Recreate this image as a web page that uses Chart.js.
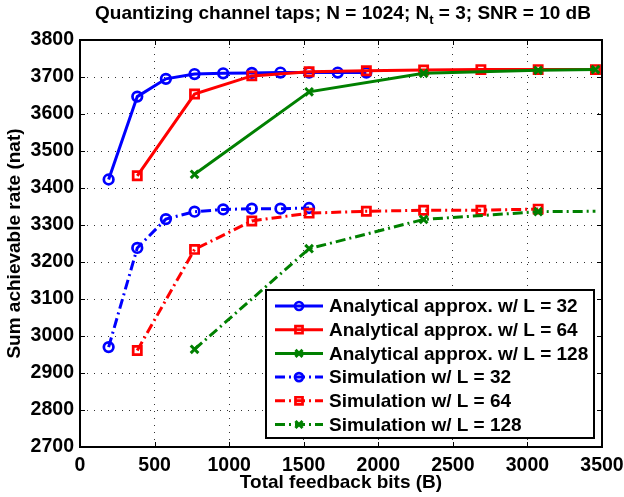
<!DOCTYPE html>
<html>
<head>
<meta charset="utf-8">
<title>Sum achievable rate vs feedback bits</title>
<script src="https://cdn.jsdelivr.net/npm/chart.js@4/dist/chart.umd.min.js"></script>
<style>
    html, body { margin: 0; padding: 0; background: #fff; }
    #wrap { width: 624px; height: 497px; position: relative; }
</style>
</head>
<body>
<div id="wrap"><canvas id="rateChart"></canvas></div>
<script>
// --- Data ---
// feedback bits per configuration (B)
const bitsL32 = [192, 384, 576, 768, 960, 1152, 1344, 1536, 1728, 1920];
const bitsL64 = [384, 768, 1152, 1536, 1920, 2304, 2688, 3072, 3456];
const bitsL128 = [768, 1536, 2304, 3072, 3456];
const simBitsL32 = [192, 384, 576, 768, 960, 1152, 1344, 1536];
const simBitsL64 = [384, 768, 1152, 1536, 1920, 2304, 2688, 3072];
const simBitsL128 = [768, 1536, 2304, 3072, 3456];

// sum achievable rate (nat)
const analyticL32 = [3423, 3647, 3695, 3708, 3710, 3711, 3712, 3712, 3712, 3712];
const analyticL64 = [3433, 3654, 3703, 3714, 3717, 3719, 3720, 3720, 3720];
const analyticL128 = [3437, 3660, 3710, 3718, 3720];
const simL32 = [2970, 3238, 3316, 3336, 3342, 3344, 3344, 3346];
const simL64 = [2961, 3234, 3311, 3332, 3337, 3340, 3340, 3343];
const simL128 = [2964, 3236, 3315, 3336, 3337];

const seriesLabels = [
    'Analytical approx. w/ L = 32',
    'Analytical approx. w/ L = 64',
    'Analytical approx. w/ L = 128',
    'Simulation w/ L = 32',
    'Simulation w/ L = 64',
    'Simulation w/ L = 128'
];

const xTicks = [0, 500, 1000, 1500, 2000, 2500, 3000, 3500];
const yTicks = [2700, 2800, 2900, 3000, 3100, 3200, 3300, 3400, 3500, 3600, 3700, 3800];

// --- Styles ---
const BLUE = 'rgb(0,0,255)';
const RED = 'rgb(255,0,0)';
const GREEN = 'rgb(0,128,0)';
const DASH_DOT = [10, 4, 2, 4];
const FONT = '"Liberation Sans", Arial, Helvetica, sans-serif';

function toPoints(xs, ys) {
    return xs.map((x, i) => ({ x: x, y: ys[i] }));
}

function makeSeries(idx, xs, ys, color, marker, dashed) {
    const radius = marker === 'circle' ? 4.8 : (marker === 'rect' ? 5.8 : 5.4);
    return {
        label: seriesLabels[idx],
        data: toPoints(xs, ys),
        borderColor: color,
        backgroundColor: 'transparent',
        borderWidth: 3,
        borderDash: dashed ? DASH_DOT : [],
        pointStyle: marker,
        pointRadius: radius,
        pointBorderWidth: marker === 'crossRot' ? 3 : 2.7,
        pointBorderColor: color,
        pointBackgroundColor: 'transparent',
        tension: 0,
        fill: false,
        order: 6 - idx // later series drawn on top
    };
}

const datasets = [
    makeSeries(0, bitsL32, analyticL32, BLUE, 'circle', false),
    makeSeries(1, bitsL64, analyticL64, RED, 'rect', false),
    makeSeries(2, bitsL128, analyticL128, GREEN, 'crossRot', false),
    makeSeries(3, simBitsL32, simL32, BLUE, 'circle', true),
    makeSeries(4, simBitsL64, simL64, RED, 'rect', true),
    makeSeries(5, simBitsL128, simL128, GREEN, 'crossRot', true)
];
// last simulated L = 128 point has no marker
datasets[5].pointRadius = simL128.map((v, i) => i === simL128.length - 1 ? 0 : 5.4);

// --- Plugins ---
const framePlugin = {
    id: 'frame',
    afterDatasetsDraw(chart) {
        const { ctx, chartArea: a } = chart;
        const xs = chart.scales.x, ys = chart.scales.y;
        ctx.save();
        ctx.strokeStyle = '#000';
        ctx.lineWidth = 1;
        ctx.beginPath();
        xTicks.forEach(v => {
            const px = Math.round(xs.getPixelForValue(v)) + 0.5;
            ctx.moveTo(px, a.bottom); ctx.lineTo(px, a.bottom - 5);
            ctx.moveTo(px, a.top); ctx.lineTo(px, a.top + 5);
        });
        yTicks.forEach(v => {
            const py = Math.round(ys.getPixelForValue(v)) + 0.5;
            ctx.moveTo(a.left, py); ctx.lineTo(a.left + 5, py);
            ctx.moveTo(a.right, py); ctx.lineTo(a.right - 5, py);
        });
        ctx.stroke();
        ctx.lineWidth = 2;
        ctx.strokeRect(a.left, a.top, a.right - a.left, a.bottom - a.top);
        ctx.restore();
    }
};

const legendBoxPlugin = {
    id: 'legendBox',
    afterDraw(chart) {
        const { ctx, chartArea: a } = chart;
        const right = a.right - 8, bottom = a.bottom - 9;
        const width = 328, rowH = 23.7;
        const top = bottom - 148;
        const left = right - width;
        ctx.save();
        ctx.fillStyle = '#fff';
        ctx.fillRect(left, top, width, bottom - top);
        ctx.strokeStyle = '#000';
        ctx.lineWidth = 2;
        ctx.strokeRect(left, top, width, bottom - top);

        chart.data.datasets.forEach((ds, i) => {
            const y = top + 16 + i * rowH;
            const x0 = left + 9, x1 = left + 57;
            ctx.strokeStyle = ds.borderColor;
            ctx.lineWidth = ds.borderWidth;
            ctx.setLineDash(ds.borderDash);
            ctx.beginPath();
            ctx.moveTo(x0, y);
            ctx.lineTo(x1, y);
            ctx.stroke();
            ctx.setLineDash([]);
            ctx.fillStyle = 'transparent';
            ctx.lineWidth = ds.pointBorderWidth;
            Chart.helpers.drawPoint(ctx, {
                pointStyle: ds.pointStyle,
                radius: ds.pointStyle === 'circle' ? 4 : 5,
                rotation: 0,
                borderWidth: ds.pointBorderWidth
            }, (x0 + x1) / 2, y);

            ctx.fillStyle = '#000';
            ctx.font = 'bold 19px ' + FONT;
            ctx.textBaseline = 'middle';
            ctx.textAlign = 'left';
            ctx.fillText(ds.label, left + 63, y + 1);
        });
        ctx.restore();
    }
};

const labelsPlugin = {
    id: 'labels',
    afterDraw(chart) {
        const { ctx, chartArea: a } = chart;
        const cx = (a.left + a.right) / 2;
        ctx.save();
        ctx.fillStyle = '#000';

        // title with subscript
        const parts = [
            { text: 'Quantizing channel taps; N = 1024; N', size: 19, dy: 0 },
            { text: 't', size: 13, dy: 5 },
            { text: ' = 3; SNR = 10 dB', size: 19, dy: 0 }
        ];
        let total = 0;
        parts.forEach(p => {
            ctx.font = 'bold ' + p.size + 'px ' + FONT;
            p.w = ctx.measureText(p.text).width;
            total += p.w;
        });
        let x = cx + 2 - total / 2;
        ctx.textBaseline = 'alphabetic';
        ctx.textAlign = 'left';
        parts.forEach(p => {
            ctx.font = 'bold ' + p.size + 'px ' + FONT;
            ctx.fillText(p.text, x, 19 + p.dy);
            x += p.w;
        });

        // axis titles
        ctx.font = 'bold 19px ' + FONT;
        ctx.textAlign = 'center';
        ctx.textBaseline = 'middle';
        ctx.fillText('Total feedback bits (B)', cx, 483);

        ctx.translate(15, (a.top + a.bottom) / 2);
        ctx.rotate(-Math.PI / 2);
        ctx.fillText('Sum achievable rate (nat)', 0, 0);
        ctx.restore();
    }
};

// --- Chart ---
const plainNumber = value => String(value);

const ctx = document.getElementById('rateChart').getContext('2d');
new Chart(ctx, {
    type: 'line',
    data: { datasets: datasets },
    options: {
        responsive: true,
        maintainAspectRatio: false,
        animation: false,
        layout: { padding: { top: 40, right: 22, left: 0, bottom: 0 } },
        plugins: {
            legend: { display: false },
            tooltip: { enabled: false }
        },
        scales: {
            x: {
                type: 'linear',
                min: 0,
                max: 3500,
                afterBuildTicks: scale => { scale.ticks = xTicks.map(v => ({ value: v })); },
                afterFit: scale => {
                    scale.height = 50;
                    scale.paddingLeft = 0;
                    scale.paddingRight = 0;
                },
                ticks: {
                    color: '#000',
                    padding: 7,
                    maxRotation: 0,
                    callback: plainNumber,
                    font: { family: FONT, size: 19.5, weight: 'bold' }
                },
                grid: { color: 'rgba(0,0,0,0.8)', lineWidth: 1, drawTicks: false },
                border: { display: false, dash: [1, 6] }
            },
            y: {
                type: 'linear',
                min: 2700,
                max: 3800,
                afterBuildTicks: scale => { scale.ticks = yTicks.map(v => ({ value: v })); },
                afterFit: scale => {
                    scale.width = 80;
                    scale.paddingTop = 0;
                    scale.paddingBottom = 0;
                },
                ticks: {
                    color: '#000',
                    padding: 6,
                    callback: plainNumber,
                    font: { family: FONT, size: 19.5, weight: 'bold' }
                },
                grid: { color: 'rgba(0,0,0,0.8)', lineWidth: 1, drawTicks: false },
                border: { display: false, dash: [1, 6] }
            }
        }
    },
    plugins: [framePlugin, legendBoxPlugin, labelsPlugin]
});
</script>
</body>
</html>
